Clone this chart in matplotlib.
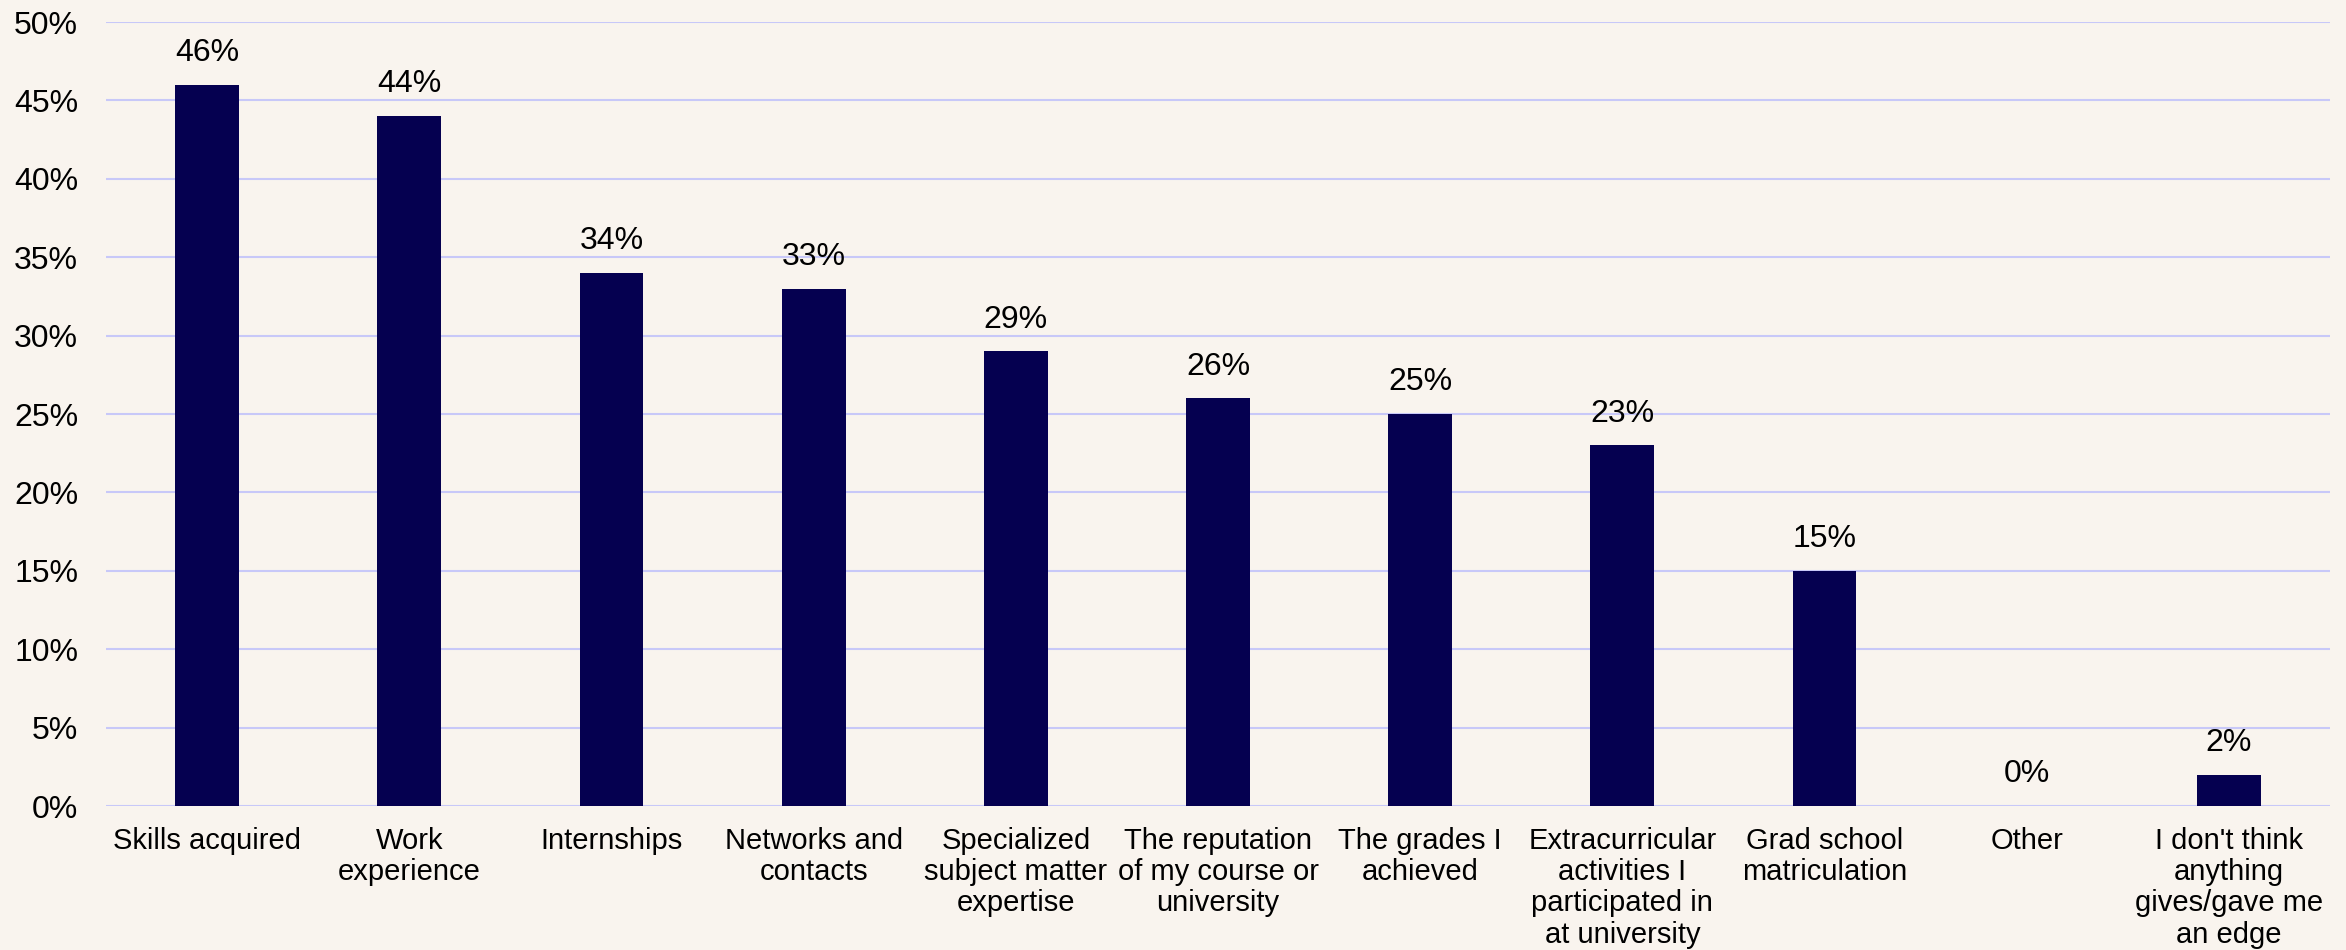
import matplotlib.pyplot as plt
import numpy as np

# данные
categories = [
    "Skills acquired",
    "Work\nexperience",
    "Internships",
    "Networks and\ncontacts",
    "Specialized\nsubject matter\nexpertise",
    "The reputation\nof my course or\nuniversity",
    "The grades I\nachieved",
    "Extracurricular\nactivities I\nparticipated in\nat university",
    "Grad school\nmatriculation",
    "Other",
    "I don't think\nanything\ngives/gave me\nan edge",
]
values = [46, 44, 34, 33, 29, 26, 25, 23, 15, 0, 2]
y_ticks = [0, 5, 10, 15, 20, 25, 30, 35, 40, 45, 50]

bg = "#F9F4EE"
bar_color = "#050050"
grid_color = "#C8C8F8"

plt.rcParams['font.family'] = ['Liberation Sans', 'DejaVu Sans']

fig = plt.figure(figsize=(23.46, 9.5), dpi=100, facecolor=bg)
ax = fig.add_axes([106 / 2346, 1 - 806 / 950, 2224 / 2346, 784 / 950])
ax.set_facecolor(bg)

x = np.arange(len(categories))
ax.bar(x, values, width=0.316, color=bar_color, zorder=3)

# подписи значений над столбцами
for xi, v in zip(x, values):
    ax.annotate(f"{v}%", (xi, v), xytext=(0, 12), textcoords="offset points",
                ha="center", va="bottom", fontsize=23, color="black")

ax.set_xlim(-0.5, len(categories) - 0.5)
ax.set_ylim(0, 50)
ax.set_yticks(y_ticks)
ax.set_yticklabels([f"{t}%" for t in y_ticks], fontsize=23)
ax.set_xticks(x)
ax.set_xticklabels(categories, fontsize=21, linespacing=1.15, va="top")
ax.tick_params(axis="y", length=0, pad=20)
ax.tick_params(axis="x", length=0, pad=15)

ax.grid(axis="y", color=grid_color, linewidth=1.5, zorder=0)
ax.set_axisbelow(True)
for s in ax.spines.values():
    s.set_visible(False)

fig.savefig("out.png", dpi=100, facecolor=bg)
